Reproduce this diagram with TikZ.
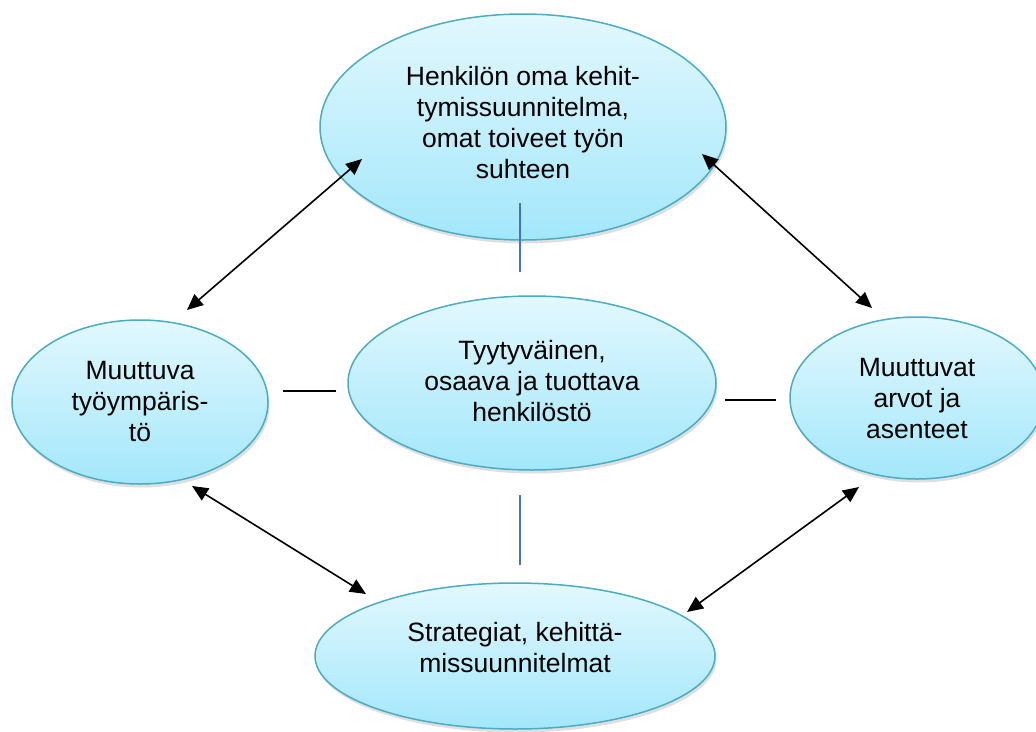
\documentclass[tikz,border=0pt]{standalone}
\usepackage{fontspec}
\setmainfont{Liberation Sans}
\usetikzlibrary{shapes.geometric,arrows.meta,shadows}
\definecolor{rim}{HTML}{4BACC6}
\definecolor{ftop}{HTML}{E2F8FE}
\definecolor{fbot}{HTML}{A3E7FB}
\definecolor{vline}{HTML}{4472C4}
\begin{document}
\begin{tikzpicture}[x=1pt,y=-1pt,
  bubble/.style={ellipse, draw=rim, line width=1.5pt, top color=ftop, bottom color=fbot,
    inner sep=0pt, drop shadow={opacity=0.25, shadow xshift=1.5pt, shadow yshift=-3.5pt}},
  txt/.style={align=center, font=\fontsize{26.5}{31}\selectfont, inner sep=0pt},
  arr/.style={line width=1.6pt, {Triangle[length=16pt,width=14pt]}-{Triangle[length=16pt,width=14pt]}},
  plainbar/.style={line width=1.3pt, black},
  bluebar/.style={line width=1.6pt, vline}]
\useasboundingbox (0,0) rectangle (1036,731);
\fill[white] (0,0) rectangle (1036,731);

% ellipses
\node[bubble, minimum width=406pt, minimum height=226pt] (topE) at (523,127) {};
\node[bubble, minimum width=256pt, minimum height=164pt] (leftE) at (140,402) {};
\node[bubble, minimum width=368pt, minimum height=174pt] (midE) at (532,383) {};
\node[bubble, minimum width=254pt, minimum height=162pt] (rightE) at (917,398) {};
\node[bubble, minimum width=400pt, minimum height=146pt] (botE) at (515,656) {};

% texts
\node[txt] (topT) at (523,123) {Henkilön oma kehit-\\tymissuunnitelma,\\omat toiveet työn\\suhteen};
\node[txt] (leftT) at (140,402) {Muuttuva\\työympäris-\\tö};
\node[txt] (midT) at (532,381) {Tyytyväinen,\\osaava ja tuottava\\henkilöstö};
\node[txt] (rightT) at (917,399) {Muuttuvat\\arvot ja\\asenteet};
\node[txt] (botT) at (515,648) {Strategiat, kehittä-\\missuunnitelmat};

% arrow end points
\coordinate (tlA) at (187,310);
\coordinate (tlB) at (362,159);
\coordinate (trA) at (702,154);
\coordinate (trB) at (872,308);
\coordinate (blA) at (192,486);
\coordinate (blB) at (366,594);
\coordinate (brA) at (859,487);
\coordinate (brB) at (687,612);
\draw[arr] (tlA) -- (tlB);
\draw[arr] (trA) -- (trB);
\draw[arr] (blA) -- (blB);
\draw[arr] (brA) -- (brB);

% plain bars
\coordinate (vtA) at (520,203);
\coordinate (vtB) at (520,272);
\coordinate (vbA) at (520,495);
\coordinate (vbB) at (520,565);
\coordinate (hlA) at (283,391);
\coordinate (hlB) at (336,391);
\coordinate (hrA) at (725,400);
\coordinate (hrB) at (776,400);
\draw[bluebar] (vtA) -- (vtB);
\draw[bluebar] (vbA) -- (vbB);
\draw[plainbar] (hlA) -- (hlB);
\draw[plainbar] (hrA) -- (hrB);
\end{tikzpicture}
\end{document}
